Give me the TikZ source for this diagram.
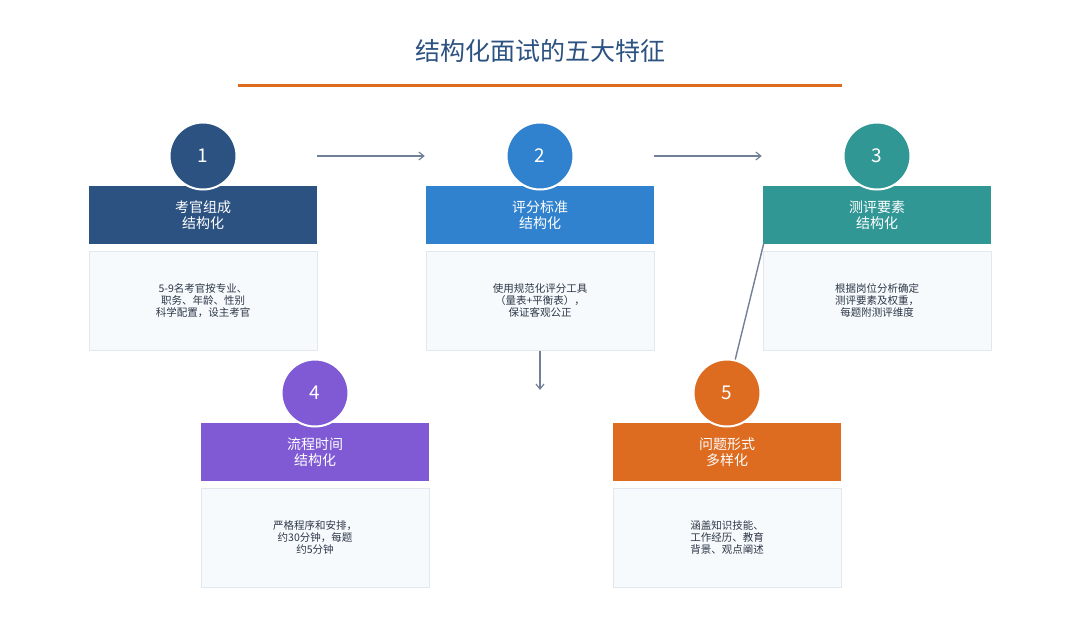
\documentclass[tikz,border=0pt]{standalone}
\usepackage{fontspec}
\setmainfont{Noto Sans CJK SC}
\usetikzlibrary{arrows.meta}
\definecolor{cone}{HTML}{2C5282}
\definecolor{ctwo}{HTML}{3182CE}
\definecolor{cthree}{HTML}{319795}
\definecolor{cfour}{HTML}{805AD5}
\definecolor{cfive}{HTML}{DD6B20}
\definecolor{ctitle}{HTML}{2C5282}
\definecolor{cline}{HTML}{718096}
\definecolor{cbody}{HTML}{F7FAFC}
\definecolor{cborder}{HTML}{E2E8F0}
\definecolor{ctext}{HTML}{2D3748}
\pgfdeclarelayer{bg}
\pgfsetlayers{bg,main}
\tikzset{
  hdr/.style={minimum width=228pt, minimum height=58pt, inner sep=0pt, align=center,
    text=white, font=\fontsize{14}{16}\selectfont},
  bodybox/.style={fill=cbody, draw=cborder, line width=1pt, minimum width=228pt,
    minimum height=99pt, inner sep=0pt, align=center, text=ctext,
    font=\fontsize{10.5}{12}\selectfont},
  num/.style={circle, draw=white, line width=2pt, minimum size=67pt, inner sep=0pt,
    text=white, font=\fontsize{19}{19}\selectfont},
  conn/.style={draw=cline, line width=1.4pt},
  arr/.style={conn, -{Straight Barb[length=5pt,width=8pt,line width=1.2pt]}}
}
\begin{document}
\begin{tikzpicture}[x=1pt,y=-1pt]
\useasboundingbox (0,0) rectangle (1080,624);
\fill[white] (0,0) rectangle (1080,624);
% title
\node[text=ctitle, font=\fontsize{25}{27}\selectfont] (title) at (540,51) {结构化面试的五大特征};
\draw[cfive, line width=3pt] (238,85) -- (842,85);
% cards
\node[hdr, fill=cone] (h1) at (203,215) {考官组成\\结构化};
\node[bodybox] (b1) at (203,300.5) {5-9名考官按专业、\\职务、年龄、性别\\科学配置，设主考官};
\node[num, fill=cone] (n1) at (203,156) {1};

\node[hdr, fill=ctwo] (h2) at (540,215) {评分标准\\结构化};
\node[bodybox] (b2) at (540,300.5) {使用规范化评分工具\\（量表+平衡表），\\保证客观公正};
\node[num, fill=ctwo] (n2) at (540,156) {2};

\node[hdr, fill=cthree] (h3) at (877,215) {测评要素\\结构化};
\node[bodybox] (b3) at (877,300.5) {根据岗位分析确定\\测评要素及权重，\\每题附测评维度};
\node[num, fill=cthree] (n3) at (877,156) {3};

\node[hdr, fill=cfour] (h4) at (315,452) {流程时间\\结构化};
\node[bodybox] (b4) at (315,537.5) {严格程序和安排，\\约30分钟，每题\\约5分钟};
\node[num, fill=cfour] (n4) at (315,393) {4};

\node[hdr, fill=cfive] (h5) at (727,452) {问题形式\\多样化};
\node[bodybox] (b5) at (727,537.5) {涵盖知识技能、\\工作经历、教育\\背景、观点阐述};
\node[num, fill=cfive] (n5) at (727,393) {5};

\coordinate (e2) at (540,390);
% connectors
\draw[arr] (n1 -| h1.east) -- ([xshift=-1pt]n2 -| h2.west);
\draw[arr] (n2 -| h2.east) -- ([xshift=-1pt]n3 -| h3.west);
\draw[arr] (b2.south) -- (e2);
\begin{pgfonlayer}{bg}
\draw[conn] ([xshift=-2pt]h1.south east) -- (n4.north);
\end{pgfonlayer}
\draw[conn] ([xshift=1pt,yshift=1pt]h3.south west) -- (n5);
\end{tikzpicture}
\end{document}
